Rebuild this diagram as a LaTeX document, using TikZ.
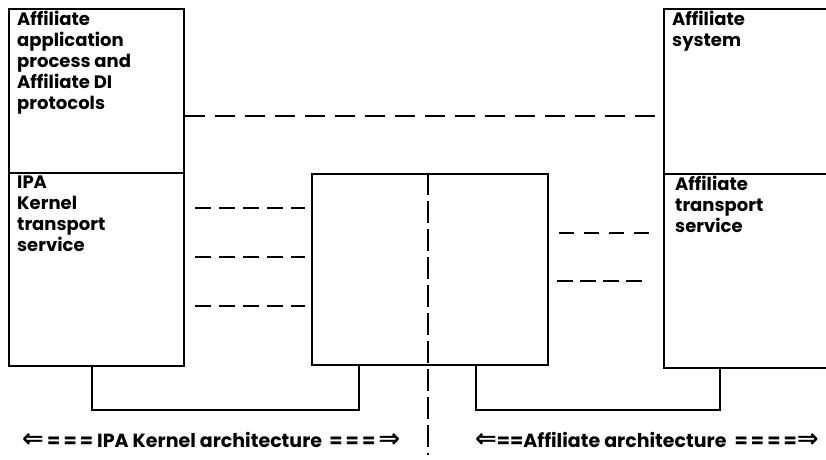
\documentclass[tikz,border=0pt]{standalone}
\usepackage{fontspec}
\setmainfont{Poppins}
\newfontfamily\symfont{DejaVu Sans}
\usetikzlibrary{positioning}

\newcommand{\larr}{{\symfont\bfseries\fontsize{26}{22}\selectfont ⇐}}
\newcommand{\rarr}{{\symfont\bfseries\fontsize{26}{22}\selectfont ⇒}}

\tikzset{
  box/.style={draw, line width=1.6pt, rectangle, anchor=north west, inner sep=0pt},
  boxtext/.style={anchor=north west, align=left, inner sep=0pt, font=\fontsize{18}{21}\selectfont\bfseries},
  link/.style={line width=1.6pt},
  dashline/.style={line width=1.5pt, dash pattern=on 18pt off 10pt},
  splitline/.style={line width=1.6pt, dash pattern=on 22pt off 6pt},
  archlabel/.style={font=\fontsize{19}{20}\selectfont\bfseries, inner sep=0pt, anchor=west}
}

\begin{document}
\begin{tikzpicture}[x=1pt, y=-1pt]
\useasboundingbox (0,0) rectangle (826,459);

% boxes
\node[box, minimum width=175pt, minimum height=164pt] (lapp) at (8,8) {};
\node[box, minimum width=175pt, minimum height=193pt] (ltr) at (8,172) {};
\node[box, minimum width=236pt, minimum height=191pt] (mid) at (311,173) {};
\node[box, minimum width=220pt, minimum height=165pt] (rsys) at (663,8) {};
\node[box, minimum width=220pt, minimum height=194pt] (rtr) at (663,173) {};

% box texts
\node[boxtext] (lapptext) at (17,11) {Affiliate\\application\\process and\\Affiliate DI\\protocols};
\node[boxtext] (ltrtext) at (17,176) {IPA\\Kernel\\transport\\service};
\node[boxtext] (rsystext) at (672,11) {Affiliate\\system};
\node[boxtext] (rtrtext) at (675,176) {Affiliate\\transport\\service};

% dashed connections
\draw[dashline, dash pattern=on 20pt off 10pt] (lapp.east |- 0,116) -- (rsys.west |- 0,116);
\foreach \y in {208,257,306}
  \draw[dashline, dash pattern=on 16pt off 8pt, shorten <=10pt, shorten >=6pt] (ltr.east |- 0,\y) -- (mid.west |- 0,\y);
\draw[dashline, dash pattern=on 15pt off 10pt, shorten <=10pt, shorten >=13pt] (mid.east |- 0,233) -- (rtr.west |- 0,233);
\draw[dashline, dash pattern=on 16pt off 7pt, shorten <=8pt, shorten >=18pt] (mid.east |- 0,281) -- (rtr.west |- 0,281);

% split between the two architectures
\coordinate (splitend) at (428,455);
\draw[splitline] (mid.north -| splitend) -- (splitend);

% bottom links
\coordinate (lbend) at (92,410);
\coordinate (lfoot) at (359,410);
\coordinate (rbend) at (476,410);
\coordinate (rfoot) at (720,410);
\draw[link] (lbend |- ltr.south) -- (lbend) -- (lfoot) -- (lfoot |- mid.south);
\draw[link] (rbend |- mid.south) -- (rbend) -- (rfoot) -- (rfoot |- rtr.south);

% labels
\node[archlabel] (ipaarch) at (22,440) {\larr\,=\,=\,= IPA Kernel architecture \,=\,=\,=\,\rarr};
\node[archlabel] (affarch) at (475,440) {\larr==Affiliate architecture \ =\,=\,=\,=\rarr};

\end{tikzpicture}
\end{document}
